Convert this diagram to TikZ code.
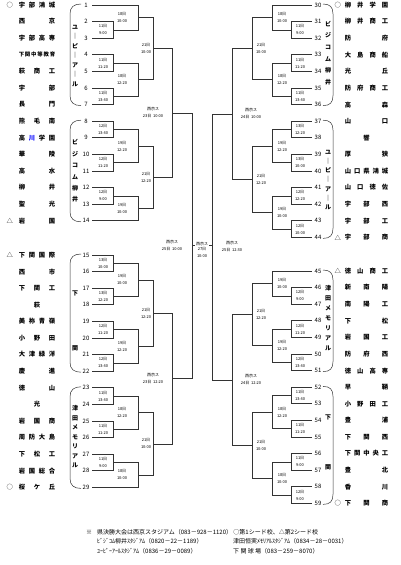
\documentclass[tikz,border=0pt]{standalone}
\usepackage{fontspec}
\setmainfont{Noto Sans CJK JP}
\usetikzlibrary{positioning}

% one match: arm a, arm b, vertical guide, winner name, label guide, label
\newcommand\bout[6]{%
  \draw[brk] (#1) -- (#1 -| #3) -- (#2 -| #3) coordinate[pos=.5] (#4) -- (#2);
  \node[when] (d#4) at (#4 -| #5) {#6};}
% venue braces
\newcommand\lgrp[2]{%
  \draw[grp] (81,#1) .. controls (74,#1) and (70,#1+3) .. (70,#1+10)
    -- (70,#2-10) .. controls (70,#2-3) and (74,#2) .. (81,#2);}
\newcommand\rgrp[2]{%
  \draw[grp] (323,#1) .. controls (330,#1) and (333,#1+3) .. (333,#1+10)
    -- (333,#2-10) .. controls (333,#2-3) and (330,#2) .. (323,#2);}

\begin{document}
\begin{tikzpicture}[x=1pt, y=-1pt,
num/.style = {% seed numbers
    inner sep=0pt, minimum width=12pt, font=\fontsize{6}{6}\selectfont},
lname/.style = {% school names
    inner sep=0pt, font=\fontsize{6.3}{7}\selectfont\bfseries},
seed/.style = {% seed marks
    inner sep=0pt, font=\fontsize{6.3}{7}\selectfont},
when/.style = {% date and time
    inner sep=0pt, align=center, font=\fontsize{4}{7}\selectfont},
venue/.style = {% stadium, written downwards
    inner sep=0pt, align=center, font=\fontsize{6}{9.5}\selectfont\bfseries},
note/.style = {% legend
    inner sep=0pt, anchor=west, font=\fontsize{6}{6}\selectfont},
brk/.style = {black!80, line width=0.65pt},
grp/.style = {black!80, line width=0.5pt},
                        ]
  \fill[white] (0,0) rectangle (400,565);
  \useasboundingbox (0,0) rectangle (400,565);

  % teams
  \foreach \i/\nm in {1/宇 部 鴻 城, 2/西 京, 3/宇 部 高 専,
      4/{\fontsize{5.4}{6}\selectfont 下 関 中 等 教 育}, 5/萩 商 工, 6/宇 部, 7/長 門,
      8/熊 毛 南, 9/高 {\color{blue}川} 学 園, 10/華 陵, 11/高 水, 12/柳 井,
      13/聖 光, 14/岩 国}{
    \node[num] (n\i) at (86,{5+(\i-1)*16.6}) {\i};
    \node[lname] (s\i) at (37,{5+(\i-1)*16.6}) {\makebox[36.5pt][s]{\nm}};}
  \foreach \i/\nm in {15/下 関 国 際, 16/西 市, 17/下 関 工, 18/\hfil 萩\hfil,
      19/美 祢 青 嶺, 20/小 野 田, 21/大 津 緑 洋, 22/慶 進, 23/徳 山,
      24/\hfil 光\hfil, 25/岩 国 商, 26/周 防 大 島, 27/下 松 工,
      28/岩 国 総 合, 29/桜 ケ 丘}{
    \node[num] (n\i) at (86,{255+(\i-15)*16.6}) {\i};
    \node[lname] (s\i) at (37,{255+(\i-15)*16.6}) {\makebox[36.5pt][s]{\nm}};}
  \foreach \i/\nm in {30/柳 井 学 園, 31/柳 井 商 工, 32/防 府, 33/大 島 商 船,
      34/光 丘, 35/防 府 商 工, 36/高 森, 37/山 口, 38/\hfil 響\hfil, 39/厚 狭,
      40/山 口 県 鴻 城, 41/山 口 徳 佐, 42/宇 部 西, 43/宇 部 工, 44/宇 部 商}{
    \node[num] (n\i) at (318,{5+(\i-30)*16.6}) {\i};
    \node[lname] (s\i) at (366.5,{5+(\i-30)*16.6}) {\makebox[43.5pt][s]{\nm}};}
  \foreach \i/\nm in {45/徳 山 商 工, 46/新 南 陽, 47/南 陽 工, 48/下 松,
      49/岩 国 工, 50/防 府 西, 51/徳 山 高 専, 52/早 鞆, 53/小 野 田 工,
      54/豊 浦, 55/下 関 西, 56/下 関 中 央 工, 57/豊 北, 58/香 川, 59/下 関 商}{
    \node[num] (n\i) at (318,{271+(\i-45)*16.6}) {\i};
    \node[lname] (s\i) at (366.5,{271+(\i-45)*16.6}) {\makebox[43.5pt][s]{\nm}};}

  % seeds
  \node[seed, left=5.5pt of s1] (k1) {○};
  \node[seed, left=5.5pt of s14] (k14) {△};
  \node[seed, left=5.5pt of s15] (k15) {△};
  \node[seed, left=5.5pt of s29] (k29) {○};
  \node[seed, left=3.5pt of s30] (k30) {○};
  \node[seed, left=3.5pt of s44] (k44) {△};
  \node[seed, left=3.5pt of s45] (k45) {△};
  \node[seed, left=3.5pt of s59] (k59) {○};

  % venues
  \lgrp{4}{105.6}
  \lgrp{120.2}{221.8}
  \lgrp{254}{372.2}
  \lgrp{386.8}{488.4}
  \rgrp{4}{105.6}
  \rgrp{120.2}{238.4}
  \rgrp{270}{371.6}
  \rgrp{386.4}{504.4}
  \node[venue] (v1) at (75,56) {ユ\\｜\\ピ\\｜\\ア\\｜\\ル};
  \node[venue, font=\fontsize{6}{11.4}\selectfont\bfseries] (v2) at (75,171) {ビ\\ジ\\コ\\ム\\柳\\井};
  \node[venue] (v3) at (75,293) {下};
  \node[venue] (v4) at (75,348) {関};
  \node[venue] (v5) at (75,437) {津\\田\\メ\\モ\\リ\\ア\\ル};
  \node[venue, font=\fontsize{6}{11.6}\selectfont\bfseries] (v6) at (328,53) {ビ\\ジ\\コ\\ム\\柳\\井};
  \node[venue, font=\fontsize{6}{9.2}\selectfont\bfseries] (v7) at (328,180) {ユ\\｜\\ピ\\｜\\ア\\｜\\ル};
  \node[venue, font=\fontsize{6}{10}\selectfont\bfseries] (v8) at (328,318) {津\\田\\メ\\モ\\リ\\ア\\ル};
  \node[venue] (v9) at (328,417) {下};
  \node[venue] (v10) at (328,467) {関};

  % round guides
  \coordinate (L1) at (113,0); \coordinate (L2) at (138,0);
  \coordinate (L3) at (153,0); \coordinate (L4) at (172,0);
  \coordinate (L5) at (192,0);
  \coordinate (A1) at (103,0); \coordinate (A2) at (122,0);
  \coordinate (A3) at (146,0); \coordinate (A4) at (153,0);
  \coordinate (A5) at (172,0);
  \coordinate (R1) at (291,0); \coordinate (R2) at (272,0);
  \coordinate (R3) at (252,0); \coordinate (R4) at (232,0);
  \coordinate (R5) at (212,0);
  \coordinate (B1) at (300,0); \coordinate (B2) at (282,0);
  \coordinate (B3) at (261,0); \coordinate (B4) at (251,0);
  \coordinate (B5) at (232,0);

  % left half
  \bout{n2.east}{n3.east}{L1}{a2}{A1}{11日\\9:00}
  \bout{n1.east}{a2}{L2}{b1}{A2}{18日\\10:00}
  \bout{n4.east}{n5.east}{L1}{a4}{A1}{11日\\11:20}
  \bout{n6.east}{n7.east}{L1}{a6}{A1}{11日\\13:40}
  \bout{a4}{a6}{L2}{b4}{A2}{18日\\12:20}
  \bout{b1}{b4}{L3}{c1}{A3}{21日\\10:00}
  \bout{n8.east}{n9.east}{L1}{a8}{A1}{12日\\13:40}
  \bout{n10.east}{n11.east}{L1}{a10}{A1}{12日\\11:20}
  \bout{a8}{a10}{L2}{b8}{A2}{19日\\12:20}
  \bout{n12.east}{n13.east}{L1}{a12}{A1}{12日\\9:00}
  \bout{a12}{n14.east}{L2}{b12}{A2}{19日\\10:00}
  \bout{b8}{b12}{L3}{c8}{A3}{21日\\12:20}
  \bout{c1}{c8}{L4}{q1}{A4}{西京ス\\23日~~10:00}

  \bout{n15.east}{n16.east}{L1}{a15}{A1}{13日\\10:00}
  \bout{n17.east}{n18.east}{L1}{a17}{A1}{13日\\12:20}
  \bout{a15}{a17}{L2}{b15}{A2}{19日\\10:00}
  \bout{n19.east}{n20.east}{L1}{a19}{A1}{12日\\11:20}
  \bout{n21.east}{n22.east}{L1}{a21}{A1}{12日\\13:40}
  \bout{a19}{a21}{L2}{b19}{A2}{19日\\12:20}
  \bout{b15}{b19}{L3}{c15}{A3}{21日\\12:20}
  \bout{n23.east}{n24.east}{L1}{a23}{A1}{11日\\13:40}
  \bout{n25.east}{n26.east}{L1}{a25}{A1}{11日\\11:20}
  \bout{a23}{a25}{L2}{b23}{A2}{18日\\12:20}
  \bout{n27.east}{n28.east}{L1}{a27}{A1}{11日\\9:00}
  \bout{a27}{n29.east}{L2}{b27}{A2}{18日\\10:00}
  \bout{b23}{b27}{L3}{c23}{A3}{21日\\10:00}
  \bout{c15}{c23}{L4}{q15}{A4}{西京ス\\23日~~12:20}

  \bout{q1}{q15}{L5}{s1}{A5}{西京ス\\25日~~10:00}

  % right half
  \bout{n31.west}{n32.west}{R1}{a31}{B1}{11日\\9:00}
  \bout{n30.west}{a31}{R2}{b30}{B2}{18日\\10:00}
  \bout{n33.west}{n34.west}{R1}{a33}{B1}{11日\\11:20}
  \bout{n35.west}{n36.west}{R1}{a35}{B1}{11日\\13:40}
  \bout{a33}{a35}{R2}{b33}{B2}{18日\\12:20}
  \bout{b30}{b33}{R3}{c30}{B3}{21日\\10:00}
  \bout{n37.west}{n38.west}{R1}{a37}{B1}{13日\\12:20}
  \bout{n39.west}{n40.west}{R1}{a39}{B1}{13日\\10:00}
  \bout{a37}{a39}{R2}{b37}{B2}{19日\\12:20}
  \bout{n41.west}{n42.west}{R1}{a41}{B1}{12日\\12:20}
  \bout{n43.west}{n44.west}{R1}{a43}{B1}{12日\\10:00}
  \bout{a41}{a43}{R2}{b41}{B2}{19日\\10:00}
  \bout{b37}{b41}{R3}{c37}{B3}{21日\\12:20}
  \bout{c30}{c37}{R4}{q30}{B4}{西京ス\\24日~~10:00}

  \bout{n46.west}{n47.west}{R1}{a46}{B1}{12日\\9:00}
  \bout{n45.west}{a46}{R2}{b45}{B2}{19日\\10:00}
  \bout{n48.west}{n49.west}{R1}{a48}{B1}{12日\\11:20}
  \bout{n50.west}{n51.west}{R1}{a50}{B1}{12日\\13:40}
  \bout{a48}{a50}{R2}{b48}{B2}{19日\\12:20}
  \bout{b45}{b48}{R3}{c45}{B3}{21日\\12:20}
  \bout{n52.west}{n53.west}{R1}{a52}{B1}{11日\\13:40}
  \bout{n54.west}{n55.west}{R1}{a54}{B1}{11日\\11:20}
  \bout{a52}{a54}{R2}{b52}{B2}{18日\\12:20}
  \bout{n56.west}{n57.west}{R1}{a56}{B1}{11日\\9:00}
  \bout{n58.west}{n59.west}{R1}{a58}{B1}{12日\\9:00}
  \bout{a56}{a58}{R2}{b56}{B2}{18日\\10:00}
  \bout{b52}{b56}{R3}{c52}{B3}{21日\\10:00}
  \bout{c45}{c52}{R4}{q45}{B4}{西京ス\\24日~~12:20}

  \bout{q30}{q45}{R5}{s30}{B5}{西京ス\\25日~~12:30}

  % final
  \draw[brk] (s1) -- (s1 -| s30) coordinate[pos=.5] (fm);
  \node[when, fill=white, inner sep=0.6pt, yshift=1.5pt] (f1) at (fm) {西京ス};
  \node[when, below=0.8pt of f1] (f2) {27日\\10:00};

  % legend
  \node[note] (ast) at (86,532) {※};
  \node[note] (ln1) at (97,532) {県決勝大会は西京スタジアム（083－928－1120）\ ○第1シード校、△第2シード校};
  \node[note] (ln2) at (97,541.5) {ﾋﾞｼﾞｺﾑ柳井ｽﾀｼﾞｱﾑ（0820－22－1189）};
  \node[note] (ln3) at (233,541.5) {津田恒実ﾒﾓﾘｱﾙｽﾀｼﾞｱﾑ（0834－28－0031）};
  \node[note] (ln4) at (97,551) {ﾕｰﾋﾟｰｱｰﾙｽﾀｼﾞｱﾑ（0836－29－0089）};
  \node[note] (ln5) at (233,551) {下 関 球 場（083－259－8070）};
\end{tikzpicture}
\end{document}
